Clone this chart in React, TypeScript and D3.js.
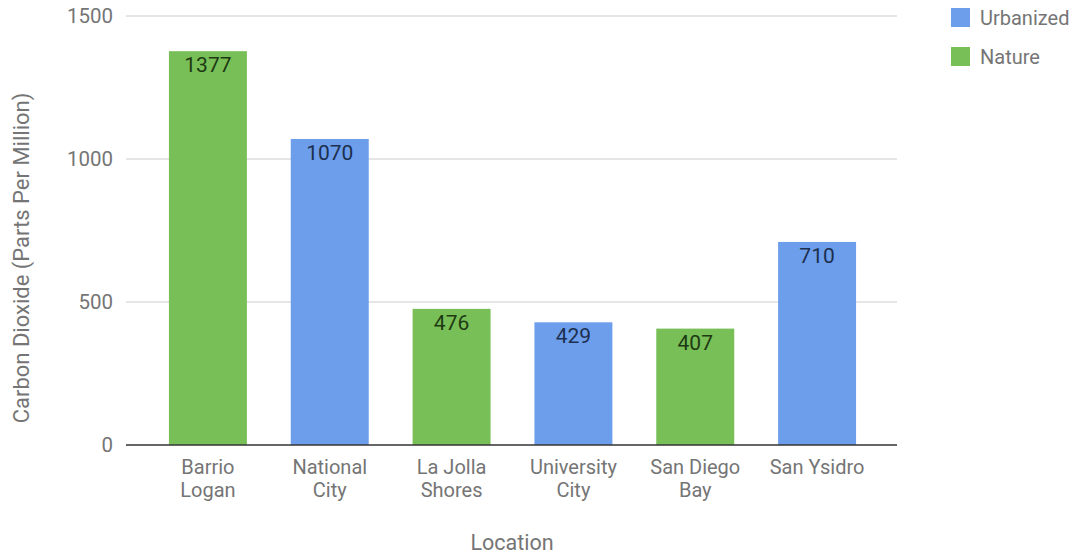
import * as d3 from "d3";

const locations = [
  ["Barrio", "Logan"],
  ["National", "City"],
  ["La Jolla", "Shores"],
  ["University", "City"],
  ["San Diego", "Bay"],
  ["San Ysidro"],
];
const values = [1377, 1070, 476, 429, 407, 710];
const types = ["Nature", "Urbanized", "Nature", "Urbanized", "Nature", "Urbanized"];
const yTicks = [0, 500, 1000, 1500];
const legendItems = ["Urbanized", "Nature"];

const fill: Record<string, string> = { Urbanized: "#6d9eeb", Nature: "#78bf58" };
const labelColor: Record<string, string> = { Urbanized: "#1c2f4f", Nature: "#1d3a12" };

const width = 1074;
const height = 554;
const font = "Roboto, 'Noto Sans', sans-serif";
const gray = "#757575";

export default function App() {
  const x = d3.scaleBand<number>()
    .domain(d3.range(values.length))
    .range([147, 878])
    .paddingInner(0.36)
    .paddingOuter(0.18);
  const y = d3.scaleLinear().domain([0, 1500]).range([445, 16]);

  return (
    <svg width={width} height={height} style={{ position: "absolute", left: 0, top: 0 }}>
      <rect width={width} height={height} fill="#fff" />
      {yTicks.map((t) => (
        <g key={t}>
          {t > 0 && <line x1={126} x2={897} y1={y(t)} y2={y(t)} stroke="#cccccc" strokeWidth={1} />}
          <text x={113} y={y(t)} dy="0.35em" textAnchor="end" fontFamily={font} fontSize={20.5} fill={gray}>
            {t}
          </text>
        </g>
      ))}
      {values.map((v, i) => (
        <g key={i}>
          <rect x={x(i)} y={y(v)} width={x.bandwidth()} height={y(0) - y(v)} fill={fill[types[i]]} />
          <text
            x={(x(i) ?? 0) + x.bandwidth() / 2}
            y={y(v) + 21}
            textAnchor="middle"
            fontFamily={font}
            fontSize={21}
            fill={labelColor[types[i]]}
          >
            {v}
          </text>
          {locations[i].map((line, j) => (
            <text
              key={j}
              x={(x(i) ?? 0) + x.bandwidth() / 2}
              y={474 + j * 22.5}
              textAnchor="middle"
              fontFamily={font}
              fontSize={20}
              fill={gray}
            >
              {line}
            </text>
          ))}
        </g>
      ))}
      <line x1={126} x2={897} y1={y(0)} y2={y(0)} stroke="#333" strokeWidth={1.5} />
      <text
        transform={`translate(29,${258}) rotate(-90)`}
        textAnchor="middle"
        fontFamily={font}
        fontSize={22}
        fill={gray}
      >
        Carbon Dioxide (Parts Per Million)
      </text>
      <text x={512} y={550} textAnchor="middle" fontFamily={font} fontSize={21.5} fill={gray}>
        Location
      </text>
      {legendItems.map((k, i) => (
        <g key={k} transform={`translate(951,${8 + i * 39})`}>
          <rect width={19} height={19} fill={fill[k]} />
          <text x={29} y={10} dy="0.35em" fontFamily={font} fontSize={20} fill={gray}>
            {k}
          </text>
        </g>
      ))}
    </svg>
  );
}
